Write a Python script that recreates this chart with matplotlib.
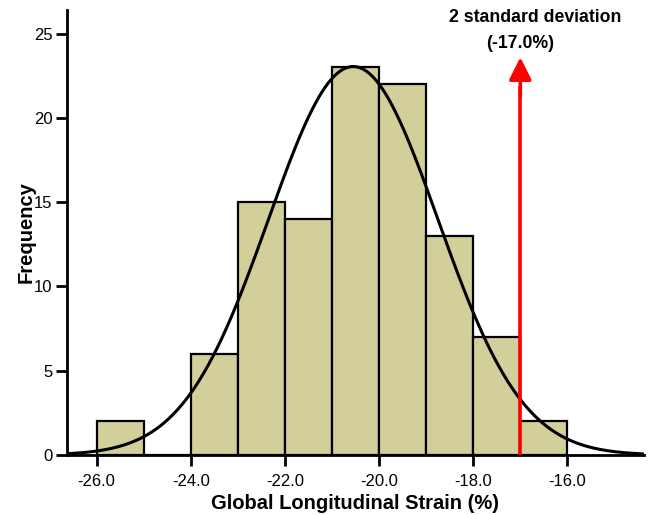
import numpy as np
import matplotlib
matplotlib.use('Agg')
import matplotlib.pyplot as plt

# histogram of GLS values (bin width 1%)
bin_edges = [-26, -25, -24, -23, -22, -21, -20, -19, -18, -17, -16]
counts = [2, 0, 6, 15, 14, 23, 22, 13, 7, 2]

# fitted normal curve parameters
gls_mean = -20.55
gls_sd = 1.80
n_total = sum(counts)
sd2_value = -17.0

xticks = [-26, -24, -22, -20, -18, -16]
yticks = [0, 5, 10, 15, 20, 25]

plt.rcParams['font.family'] = ['Liberation Sans', 'DejaVu Sans']

fig = plt.figure(figsize=(6.49, 5.15), dpi=100)
ax = fig.add_axes([0.1025, 0.1165, 0.89, 0.864])

lefts = np.array(bin_edges[:-1])
widths = np.diff(bin_edges)
ax.bar(lefts, counts, width=widths, align='edge', color='#d3cf9b',
       edgecolor='black', linewidth=1.6, zorder=2)

xs = np.linspace(-26.64, -14.4, 400)
pdf = n_total * 1.0 / (gls_sd * np.sqrt(2 * np.pi)) * np.exp(-0.5 * ((xs - gls_mean) / gls_sd) ** 2)
ax.plot(xs, pdf, color='black', linewidth=2.2, zorder=3)

# 2 SD marker
ax.plot([sd2_value, sd2_value], [0, 21.8], color='red', linewidth=2.6, zorder=4)
ax.annotate('', xy=(sd2_value, 23.6), xytext=(sd2_value, 21.3),
            arrowprops=dict(arrowstyle='-|>', color='red', lw=2.6,
                            mutation_scale=34, shrinkA=0, shrinkB=0), zorder=4)
fig.text(535 / 649, 1 - 18 / 515, '2 standard deviation', ha='center', va='center',
         fontsize=12.7, fontweight='bold')
fig.text(520 / 649, 1 - 43 / 515, '(-17.0%)', ha='center', va='center',
         fontsize=12.7, fontweight='bold')

ax.set_xlim(-26.64, -14.37)
ax.set_ylim(0, 26.4)
ax.set_xticks(xticks)
ax.set_xticklabels(['%.1f' % v for v in xticks])
ax.set_yticks(yticks)

ax.spines['top'].set_visible(False)
ax.spines['right'].set_visible(False)
ax.spines['left'].set_linewidth(2)
ax.spines['bottom'].set_linewidth(2)
ax.tick_params(axis='both', width=2, length=8, labelsize=12, direction='out')
ax.tick_params(axis='x', pad=6)
ax.tick_params(axis='y', pad=2)

ax.set_xlabel('Global Longitudinal Strain (%)', fontsize=14.5, fontweight='bold', labelpad=3)
ax.set_ylabel('Frequency', fontsize=14.5, fontweight='bold', labelpad=-1)

fig.savefig('out.png', dpi=100)
